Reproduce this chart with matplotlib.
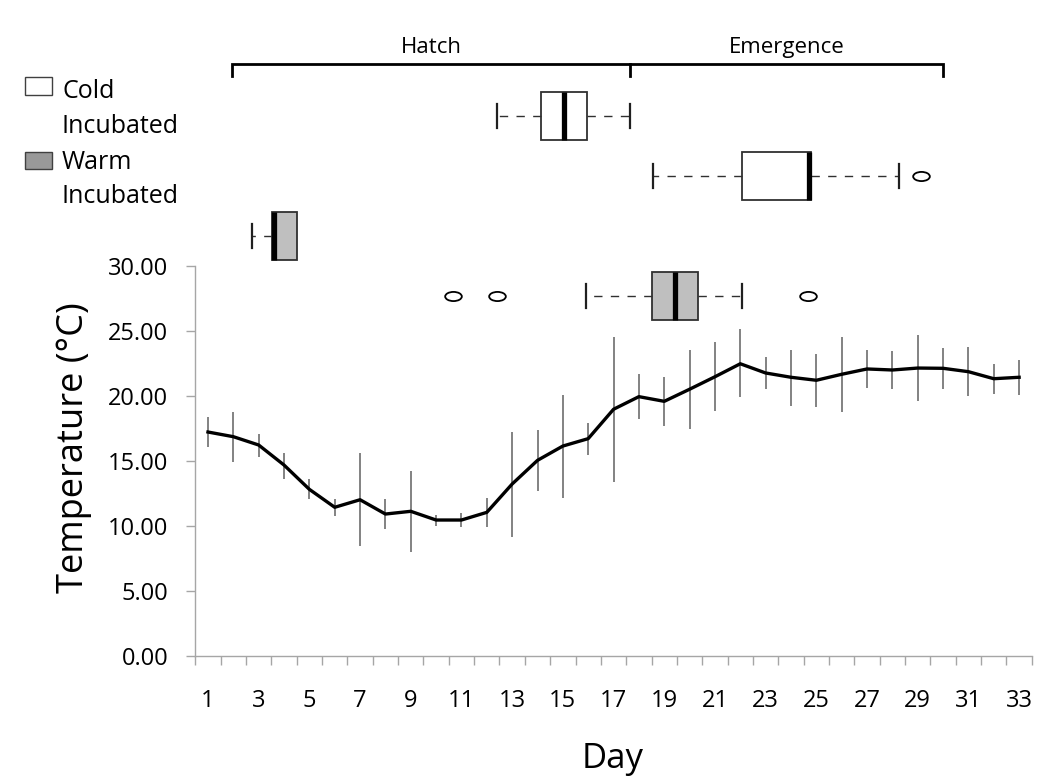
import numpy as np
import matplotlib
matplotlib.use('Agg')
import matplotlib.pyplot as plt
from matplotlib.path import Path
from matplotlib.patches import Rectangle

plt.rcParams['font.family'] = ['Open Sans', 'DejaVu Sans']

# daily mean temperature and the ends of its error bars
days = np.arange(1, 34)
temp_mean = np.array([17.23, 16.87, 16.23, 14.69, 12.82, 11.44, 12.02, 10.92, 11.13, 10.46,
                      10.46, 11.05, 13.23, 15.05, 16.15, 16.72, 18.98, 19.95, 19.59, 20.52,
                      21.48, 22.48, 21.77, 21.44, 21.21, 21.67, 22.08, 22.00, 22.15, 22.13,
                      21.87, 21.33, 21.44])
temp_high = np.array([18.38, 18.79, 17.08, 15.62, 13.59, 12.10, 15.59, 12.10, 14.23, 10.82,
                      11.02, 12.15, 17.25, 17.41, 20.08, 17.95, 24.52, 21.67, 21.48, 23.54,
                      24.15, 25.13, 22.98, 23.54, 23.21, 24.54, 23.56, 23.44, 24.67, 23.67,
                      23.75, 22.46, 22.79])
temp_low = np.array([16.08, 14.95, 15.33, 13.62, 12.05, 10.77, 8.46, 9.75, 8.00, 10.02,
                     9.90, 9.95, 9.13, 12.69, 12.15, 15.48, 13.41, 18.21, 17.69, 17.44,
                     18.87, 19.92, 20.52, 19.25, 19.18, 18.79, 20.62, 20.52, 19.62, 20.56,
                     20.00, 20.13, 20.05])

# box plots of hatch / emergence day (in days)
box_names = ['cold hatch', 'cold emergence', 'warm hatch', 'warm emergence']
box_whislo = [12.39, 18.57, 15.90, 2.75]
box_q1 = [14.15, 22.08, 18.53, 3.54]
box_med = [15.04, 24.72, 19.42, 3.62]
box_q3 = [15.95, 24.79, 20.32, 4.50]
box_whishi = [17.66, 28.27, 22.07, 4.50]
box_fliers = [[], [29.14], [10.65, 12.39, 24.68], []]

bracket_days = [1.95, 17.66, 30.0]
bracket_labels = ['Hatch', 'Emergence']

W, H = 1038, 779
fig = plt.figure(figsize=(W / 100, H / 100), dpi=100)

x0, x1 = 195.3, 1031.8
y0, y1 = 656, 266
ax = fig.add_axes([x0 / W, (H - y0) / H, (x1 - x0) / W, (y0 - y1) / H])

ax.errorbar(days, temp_mean, yerr=[temp_mean - temp_low, temp_high - temp_mean],
            fmt='none', ecolor='#606060', elinewidth=1.1, capsize=0, zorder=2)
ax.plot(days, temp_mean, color='black', lw=2.4, zorder=3, solid_joinstyle='round')

ax.set_xlim(0.5, 33.5)
ax.set_ylim(0, 30)
for s in ['top', 'right']:
    ax.spines[s].set_visible(False)
for s in ['left', 'bottom']:
    ax.spines[s].set_color('#a6a6a6')
    ax.spines[s].set_linewidth(1.0)

ax.set_xticks(days[::2])
ax.set_xticklabels([str(d) for d in days[::2]])
ax.set_xticks(np.arange(0.5, 34, 1), minor=True)
ax.tick_params(axis='x', which='major', length=0, pad=24, labelsize=17)
ax.tick_params(axis='x', which='minor', length=6.5, width=1, color='#a6a6a6', direction='out')
ax.set_yticks(np.arange(0, 31, 5))
ax.set_yticklabels(['%.2f' % v for v in np.arange(0, 31, 5)])
ax.tick_params(axis='y', length=6.5, width=1, color='#a6a6a6', pad=13, labelsize=17)

fig.text(74 / W, 1 - 448 / H, 'Temperature (\u00b0C)', rotation=90, ha='center', va='center',
         fontsize=26)
fig.text(613 / W, 1 - 768 / H, 'Day', ha='center', va='baseline', fontsize=25)

# overlay in day units horizontally, pixels vertically
ax2 = fig.add_axes([x0 / W, 0, (x1 - x0) / W, 1])
ax2.set_xlim(0.5, 33.5)
ax2.set_ylim(H, 0)
ax2.axis('off')
ax2.patch.set_alpha(0)

stats = []
for i in range(4):
    stats.append(dict(label=box_names[i], whislo=box_whislo[i], q1=box_q1[i], med=box_med[i],
                      q3=box_q3[i], whishi=box_whishi[i], fliers=box_fliers[i]))

circ = Path.unit_circle()
ellipse = Path(circ.vertices * np.array([1.0, 0.55]), circ.codes)

res = ax2.bxp(stats, positions=[116, 176, 295.5, 235.5], widths=48, orientation='horizontal',
              patch_artist=True, manage_ticks=False, capwidths=24,
              boxprops=dict(edgecolor='#303030', linewidth=1.3),
              medianprops=dict(color='black', linewidth=3.8, solid_capstyle='butt'),
              whiskerprops=dict(color='#303030', linewidth=1.0, linestyle=(0, (6, 6))),
              capprops=dict(color='#202020', linewidth=1.6),
              flierprops=dict(marker=ellipse, markersize=12, markerfacecolor='white',
                              markeredgecolor='black', markeredgewidth=1.3, linestyle='none'))
face = ['white', 'white', '#bfbfbf', '#bfbfbf']
for b, c in zip(res['boxes'], face):
    b.set_facecolor(c)
# warm emergence box has no upper whisker
res['caps'][7].set_visible(False)

# brackets
by, bt = 63.5, 76
ax2.plot([bracket_days[0], bracket_days[0], bracket_days[2], bracket_days[2]],
         [bt, by, by, bt], color='black', lw=2.0, solid_joinstyle='miter')
ax2.plot([bracket_days[1], bracket_days[1]], [by, bt], color='black', lw=2.0)
for k, lab in enumerate(bracket_labels):
    xm = (bracket_days[k] + bracket_days[k + 1]) / 2
    ax2.text(xm, 53.3, lab, ha='center', va='baseline', fontsize=16)

# legend
axl = fig.add_axes([0, 0, 1, 1])
axl.set_xlim(0, W)
axl.set_ylim(H, 0)
axl.axis('off')
axl.patch.set_alpha(0)
axl.add_patch(Rectangle((25, 77), 27, 18, facecolor='white', edgecolor='#404040', lw=1.0))
axl.add_patch(Rectangle((25, 152), 27, 17, facecolor='#999999', edgecolor='#404040', lw=1.0))
for txt, yb in zip(['Cold', 'Incubated', 'Warm', 'Incubated'], [98, 133, 169, 203]):
    axl.text(62, yb, txt, ha='left', va='baseline', fontsize=18)

fig.savefig('out.png', dpi=100)
